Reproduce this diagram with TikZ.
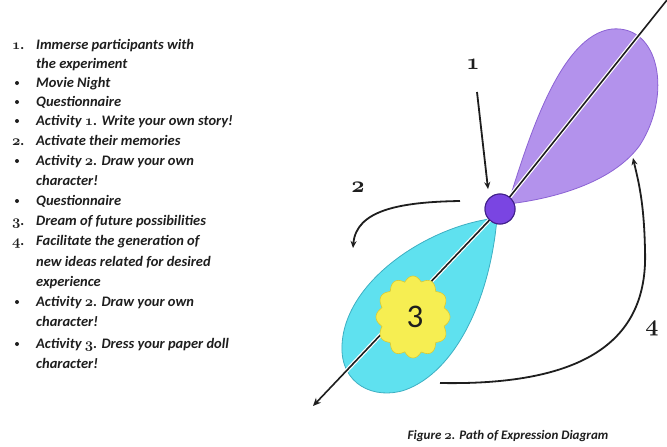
\documentclass[tikz,border=0pt]{standalone}
\usepackage{fix-cm}
\usepackage{fontspec}
\setmainfont{Carlito}
\usetikzlibrary{arrows.meta,positioning}
\definecolor{lobeTop}{HTML}{B392EC}
\definecolor{lobeTopBorder}{HTML}{8B62D4}
\definecolor{lobeLow}{HTML}{5FE1EF}
\definecolor{lobeLowBorder}{HTML}{3DAFC2}
\definecolor{sun}{HTML}{F6EE52}
\definecolor{sunBorder}{HTML}{D9CB36}
\definecolor{hubFill}{HTML}{7A45E2}
\definecolor{hubBorder}{HTML}{40208A}
\definecolor{ink}{HTML}{1E1E1E}
\newcommand\osnum[1]{{\usefont{OML}{cmm}{b}{it}#1}}

\begin{document}
\begin{tikzpicture}[x=1pt,y=-1pt,
    listline/.style={anchor=base west,inner sep=0pt,font=\fontsize{14.5}{16}\selectfont\bfseries\itshape,text=ink},
    listdot/.style={circle,fill=ink,inner sep=0pt,minimum size=4pt},
    steplabel/.style={font=\fontsize{23}{25}\selectfont,text=ink},
    axisline/.style={ink,line width=1.6pt,preaction={draw=white,line width=4pt}},
    pathArrow/.style={ink,line width=1.8pt,-{Stealth[length=7pt,width=6pt]}},
    hub/.style={circle,minimum size=30pt,inner sep=0pt,fill=hubFill,draw=hubBorder,line width=1pt}]
    \path[use as bounding box] (0,0) rectangle (667,447);
    \foreach \y/\t [count=\i] in {44/Immerse participants with,63/the experiment,82/Movie Night,101/Questionnaire,
        120/Activity \osnum{1}. Write your own story!,140/Activate their memories,160/Activity \osnum{2}. Draw your own,
        180/character!,200/Questionnaire,220/Dream of future possibilities,240/Facilitate the generation of,
        261/new ideas related for desired,281/experience,301/Activity \osnum{2}. Draw your own,321/character!,
        343/Activity \osnum{3}. Dress your paper doll,363/character!} {
      \node[listline] (line\i) at (36,\y+5) {\t};
    }
    \foreach \y/\n in {44/1,140/2,220/3,240/4} {
      \node[listline] (num\n) at (12,\y+5) {\osnum{\n}.};
    }
    \foreach \y [count=\i] in {82,101,120,160,200,301,343} {
      \node[listdot] (dot\i) at (17,\y+1) {};
    }
    \filldraw[fill=lobeTop,draw=lobeTopBorder,line width=0.8pt] (508,204) .. controls (528,140) and (560,35) .. (612,29)
      .. controls (660,25) and (672,95) .. (640,145) .. controls (615,180) and (560,198) .. (508,204) -- cycle;
    \filldraw[fill=lobeLow,draw=lobeLowBorder,line width=0.8pt] (497,218) .. controls (430,225) and (345,280) .. (342,345)
      .. controls (340,385) and (375,400) .. (405,390) .. controls (455,372) and (490,300) .. (497,218) -- cycle;
    \node[hub] (hub) at (500,209) {};
    \coordinate (top) at (667,0);
    \coordinate (tail) at (313,406);
    \draw[axisline] (top) -- (hub.center);
    \draw[axisline,-{Stealth[length=8pt,width=7pt]}] (hub.center) -- (tail);
    \filldraw[fill=sun,draw=sunBorder,line width=0.6pt] plot[domain=0:360,samples=200,smooth]
      ({413+(32+5*abs(cos(6*\x)))*cos(\x)},{317+(36+5*abs(cos(6*\x)))*sin(\x)}) -- cycle;
    \node[font=\fontsize{33}{35}\selectfont,text=ink] (three) at (415,317) {3};
    \node[hub] at (hub) {};
    \node[steplabel] (one) at (473,64) {\osnum{1}};
    \node[steplabel] (two) at (358,187) {\osnum{2}};
    \node[steplabel] (four) at (652,329) {\osnum{4}};
    \coordinate (in1) at (477,92);
    \coordinate (in2) at (460,201);
    \coordinate (out2) at (353,248);
    \coordinate (in4) at (440,383);
    \coordinate (out4) at (633,158);
    \draw[pathArrow,shorten >=9pt] (in1) -- (hub.north west);
    \draw[pathArrow] (in2) .. controls (400,202) and (356,210) .. (out2);
    \draw[pathArrow] (in4) .. controls (600,386) and (648,330) .. (645,250) .. controls (644,200) and (638,180) .. (out4);
    \node[font=\fontsize{13}{14}\selectfont\bfseries\itshape,text=ink] (caption) at (508,436) {Figure \osnum{2}. Path of Expression Diagram};
\end{tikzpicture}
\end{document}
